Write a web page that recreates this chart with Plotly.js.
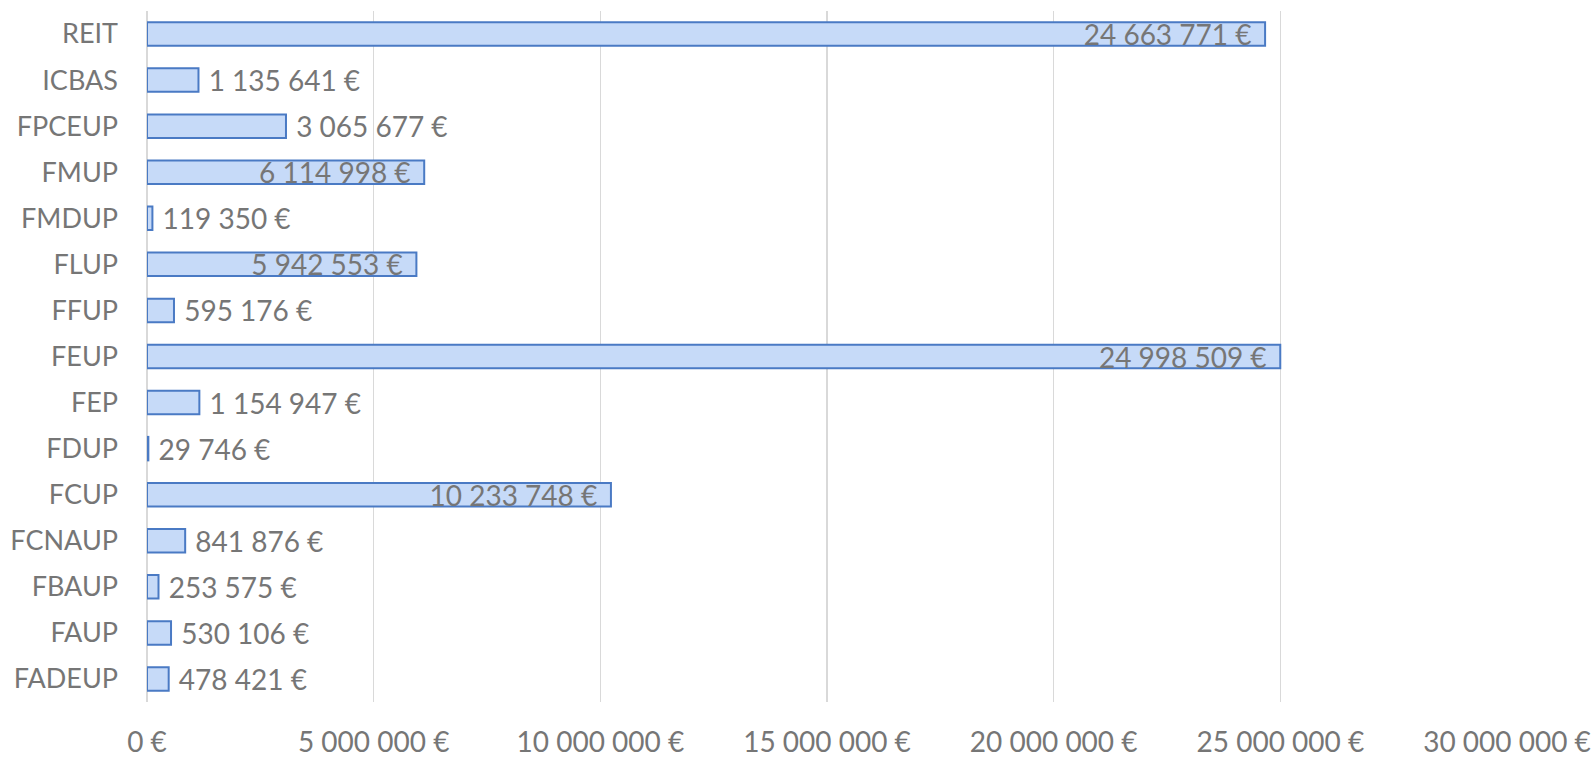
<!DOCTYPE html>
<html>
<head>
<meta charset="utf-8">
<script src="https://cdn.plot.ly/plotly-3.0.1.min.js"></script>
<style>
html,body{margin:0;padding:0;background:#fff;overflow:hidden;}
#chart{width:1596px;height:757px;}
</style>
</head>
<body>
<div id="chart"></div>
<script>
const categories = ["FADEUP","FAUP","FBAUP","FCNAUP","FCUP","FDUP","FEP","FEUP","FFUP","FLUP","FMDUP","FMUP","FPCEUP","ICBAS","REIT"];
const values = [478421, 530106, 253575, 841876, 10233748, 29746, 1154947, 24998509, 595176, 5942553, 119350, 6114998, 3065677, 1135641, 24663771];
const tickValues = [0, 5000000, 10000000, 15000000, 20000000, 25000000, 30000000];

function fmt(v){
  return String(Math.round(v)).replace(/\B(?=(\d{3})+(?!\d))/g, " ") + " €";
}
const positions = values.map(v => v > 5000000 ? "inside" : "outside");
const labels = values.map((v, i) => (positions[i] === "outside" ? "\u00a0" : "") + fmt(v) + (positions[i] === "inside" ? "\u00a0\u2009" : ""));

const FONT = "Lato, 'Open Sans', sans-serif";
const GREY = "#767676";

const trace = {
  type: "bar",
  orientation: "h",
  y: categories,
  x: values,
  text: labels,
  textposition: positions,
  insidetextanchor: "end",
  constraintext: "none",
  cliponaxis: false,
  textfont: {family: FONT, size: 28, color: GREY},
  insidetextfont: {family: FONT, size: 28, color: GREY},
  outsidetextfont: {family: FONT, size: 28, color: GREY},
  marker: {color: "#c6daf8", line: {color: "#4a7ac4", width: 2}},
  hoverinfo: "none"
};

const layout = {
  width: 1596,
  height: 757,
  margin: {l: 147, r: 89, t: 11, b: 55},
  paper_bgcolor: "#ffffff",
  plot_bgcolor: "#ffffff",
  showlegend: false,
  bargap: 0.49,
  font: {family: FONT, size: 28, color: GREY},
  xaxis: {
    range: [0, 30000000],
    tickvals: tickValues,
    ticktext: tickValues.map(fmt),
    automargin: false,
    showgrid: true,
    gridcolor: "#d9d9d9",
    gridwidth: 1.5,
    zeroline: true,
    zerolinecolor: "#d9d9d9",
    zerolinewidth: 1.5,
    showline: false,
    ticks: "",
    ticklabelstandoff: 21,
    tickfont: {family: FONT, size: 28, color: GREY}
  },
  yaxis: {
    type: "category",
    categoryorder: "array",
    categoryarray: categories,
    automargin: false,
    showgrid: false,
    zeroline: false,
    showline: false,
    ticks: "",
    ticklabelstandoff: 28,
    tickfont: {family: FONT, size: 27, color: GREY}
  }
};

Plotly.newPlot("chart", [trace], layout, {displayModeBar: false, staticPlot: true});
</script>
</body>
</html>
